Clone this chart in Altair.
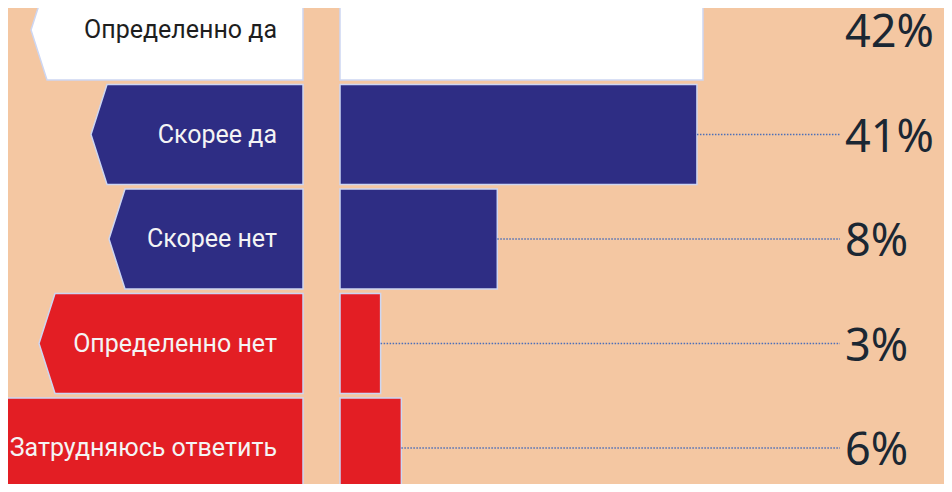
import altair as alt
import pandas as pd

# ---- data ----
categories = ["Определенно да", "Скорее да", "Скорее нет", "Определенно нет", "Затрудняюсь ответить"]
values = [42, 41, 8, 3, 6]
pct_labels = ["42%", "41%", "8%", "3%", "6%"]
# drawn bar lengths as they appear in the infographic (same units as the 42% bar)
bar_extent = [42, 41.3, 18.2, 4.7, 7.1]

# ---- styles ----
fills = ["#FFFFFF", "#2E2D84", "#2E2D84", "#E31E24", "#E31E24"]
text_colors = ["#1E1E1E", "#F4F4F4", "#F4F4F4", "#F4F4F4", "#F4F4F4"]
tag_left_px = [47, 107, 125, 55, -30]   # left edge of each tag (page px)
TIP_PX = 16
BG = "#F4C7A2"

W, H = 936, 476
K = 363 / 42.0                      # px per unit


def u(px):                          # page px -> x units
    return (px - 340) / K


def r(py):                          # page py -> row units
    return (py - 30) / 104.5


x_dom = [u(8), u(944)]
y_dom = [r(8), r(484)]
half = 50 / 104.5

rows = []
poly = []
for i, c in enumerate(categories):
    rows.append(dict(cat=c, row=i, val=values[i], ext=bar_extent[i], pct=pct_labels[i],
                     top=i - half, bot=i + half, zero=0.0, fill=fills[i], tc=text_colors[i],
                     lab_x=u(277), pct_x=u(845), dot_end=u(840)))
    x0 = u(tag_left_px[i])
    xr = u(303)
    verts = [(xr, i - half), (x0, i - half), (x0 - TIP_PX / K, i), (x0, i + half), (xr, i + half)]
    for k, (xx, yy) in enumerate(verts):
        poly.append(dict(cat=c, row=i, k=k, x=xx, y=yy, fill=fills[i]))

df = pd.DataFrame(rows)
pdf = pd.DataFrame(poly)

xs = alt.Scale(domain=x_dom, nice=False, zero=False)
ys = alt.Scale(domain=y_dom, nice=False, zero=False, reverse=True)

tags = alt.Chart(pdf).mark_line(interpolate="linear-closed", stroke="#CDD6F2", strokeWidth=1.5, clip=True).encode(
    x=alt.X("x:Q", scale=xs, axis=None),
    y=alt.Y("y:Q", scale=ys, axis=None),
    fill=alt.Fill("fill:N", scale=None),
    detail="row:N",
    order="k:Q",
)

bars = alt.Chart(df).mark_rect(stroke="#CDD6F2", strokeWidth=1.5, clip=True).encode(
    x=alt.X("zero:Q", scale=xs, axis=None),
    x2="ext:Q",
    y=alt.Y("top:Q", scale=ys, axis=None),
    y2="bot:Q",
    fill=alt.Fill("fill:N", scale=None),
)

dots = alt.Chart(df[df.row > 0]).mark_rule(color="#4C6FB8", strokeWidth=1.5, strokeDash=[1.5, 1.5], clip=True).encode(
    x=alt.X("ext:Q", scale=xs, axis=None),
    x2="dot_end:Q",
    y=alt.Y("row:Q", scale=ys, axis=None),
)

labels = alt.Chart(df).mark_text(align="right", baseline="middle", fontSize=25,
                                 font="Roboto, sans-serif").encode(
    x=alt.X("lab_x:Q", scale=xs, axis=None),
    y=alt.Y("row:Q", scale=ys, axis=None),
    text="cat:N",
    color=alt.Color("tc:N", scale=None),
)

pcts = alt.Chart(df).mark_text(align="left", baseline="middle", fontSize=45, dy=3,
                               font="Noto Sans, Open Sans, sans-serif", color="#1B2733").encode(
    x=alt.X("pct_x:Q", scale=xs, axis=None),
    y=alt.Y("row:Q", scale=ys, axis=None),
    text="pct:N",
)

chart = alt.layer(tags, bars, dots, labels, pcts).properties(
    width=W, height=H, autosize=alt.AutoSizeParams(type="none"), padding=0, background=BG
).configure_view(stroke=None)

chart.save("out.html", embed_options={"renderer": "svg", "actions": False})
